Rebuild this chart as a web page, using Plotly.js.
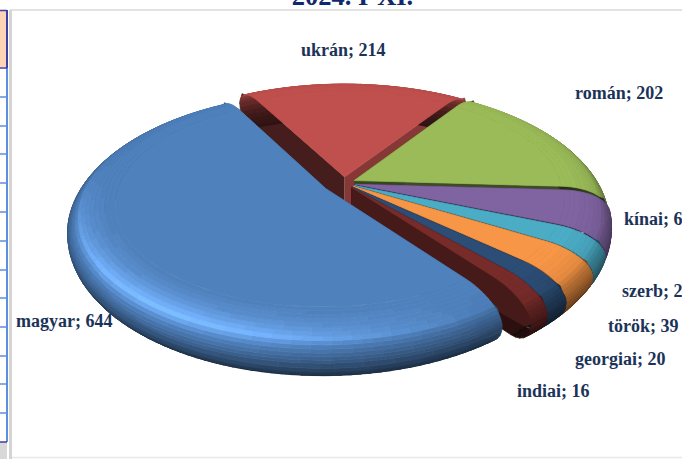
<!DOCTYPE html>
<html><head><meta charset="utf-8">
<script src="https://cdn.plot.ly/plotly-3.0.0.min.js"></script>
<style>html,body{margin:0;padding:0;background:#fff;overflow:hidden}#c{width:682px;height:459px}</style>
</head><body><div id="c"></div>
<script>
var titleText = "2024. I-XI.";
var categories = ["magyar","ukrán","román","kínai","szerb","török","georgiai","indiai"];
var values = [644,214,202,64,29,39,20,16];
var labels = ["magyar; 644","ukrán; 214","román; 202","kínai; 6","szerb; 2","török; 39","georgiai; 20","indiai; 16"];
var colors = ["#4f81bd","#c0504d","#9bbb59","#8064a2","#4bacc6","#f79646","#2c4d75","#772c2a"];
var pulls = [.085,.05,.045,.045,.045,.045,.045,.045];
var labelX = [14,299,573,622,620,606,573,515];
var labelY = [321,50,93,219,291,326,359,391];
var drawOrder = [1,2,3,4,5,6,7,0];

// projection of the tilted pie, in page pixels (axes run 0..682 and 459..0)
var P = {cx:344, cy:183, R:252, H:122, k:0.17, T:41, redGreenEdge:56};
function rad(d){return d*Math.PI/180;}
function proj(s, r, th, z){
  var u = s.ox + r*Math.cos(rad(th)), v = s.oy + r*Math.sin(rad(th));
  var w = 1 + P.k*v;
  return [P.cx + P.R*u/w, P.cy + (-P.H*v + z*P.T)/w];
}
function hex(c){return [1,3,5].map(function(i){return parseInt(c.substr(i,2),16);});}
function shade(c,f){
  var a = hex(c).map(function(x){
    var y = x*f; if(f>1) y += (f-1)*60;
    return Math.max(0,Math.min(255,Math.round(y)));
  });
  return "rgb("+a.join(",")+")";
}
var total = values.reduce(function(a,b){return a+b;},0);
var slices = [];
(function(){
  var a = P.redGreenEdge; // clockwise from here: román, kínai, szerb, török, georgiai, indiai, magyar, ukrán
  [2,3,4,5,6,7,0,1].forEach(function(i){
    var sweep = values[i]/total*360;
    var hi = a, lo = a - sweep;
    var mid = (hi+lo)/2;
    slices[i] = {hi:hi, lo:lo, ox:pulls[i]*Math.cos(rad(mid)), oy:pulls[i]*Math.sin(rad(mid)), color:colors[i], name:categories[i]};
    a = lo;
  });
})();
// rounded edge profile, bottom to top
var rings = [];
(function(){
  var i, q;
  for(i=0;i<7;i++){ q=rad(90*i/7); rings.push([.9+.1*Math.sin(q), 1-.5*(1-Math.cos(q))]); }
  for(i=0;i<=14;i++){ q=rad(90*i/14); rings.push([.82+.18*Math.cos(q), .5*(1-Math.sin(q))]); }
})();
function factor(th,z){
  var L = Math.max(0,Math.cos(rad(th-235))); L = L*L;
  var crest = 1 + .34*L - .08*(1-L);
  if(z<.18) return 1 + (z/.18)*(crest-1);
  return crest + (.24-crest)*Math.pow((z-.18)/.82,.62);
}
var traces = [];
function poly(xs,ys,col){
  traces.push({type:"scatter",mode:"lines",x:xs,y:ys,fill:"toself",fillcolor:col,
    line:{color:col,width:.7},hoverinfo:"skip",showlegend:false});
}
drawOrder.forEach(function(i){
  var s = slices[i];
  // radial walls
  [[s.lo,s.lo-90],[s.hi,s.hi+90]].forEach(function(e){
    var f = .36 + .37*Math.max(0,Math.cos(rad(e[1]+10)));
    var pts = [[0,0],[.82,0],[.976,.18],[1,.5],[.9,1],[0,1]].map(function(q){return proj(s,q[0],e[0],q[1]);});
    poly(pts.map(function(p){return p[0];}),pts.map(function(p){return p[1];}),shade(s.color,f));
  });
  // rim bands, bottom to top
  var n = Math.max(2,Math.ceil((s.hi-s.lo)/2));
  for(var b=0;b<rings.length-1;b++){
    var r0=rings[b], r1=rings[b+1], groups={};
    for(var j=0;j<n;j++){
      var t0=s.lo+(s.hi-s.lo)*j/n, t1=s.lo+(s.hi-s.lo)*(j+1)/n;
      var f=Math.round(factor((t0+t1)/2,(r0[1]+r1[1])/2)/.02)*.02;
      var key=f.toFixed(2);
      var g=groups[key]||(groups[key]={x:[],y:[]});
      [proj(s,r0[0],t0,r0[1]),proj(s,r0[0],t1,r0[1]),proj(s,r1[0],t1,r1[1]),proj(s,r1[0],t0,r1[1]),proj(s,r0[0],t0,r0[1])].forEach(function(p){g.x.push(p[0]);g.y.push(p[1]);});
      g.x.push(null);g.y.push(null);
    }
    Object.keys(groups).forEach(function(k){poly(groups[k].x,groups[k].y,shade(s.color,+k));});
  }
  // top face
  var xs=[],ys=[],a=proj(s,0,s.lo,0);xs.push(a[0]);ys.push(a[1]);
  for(var j=0;j<=n;j++){var p=proj(s,rings[rings.length-1][0],s.lo+(s.hi-s.lo)*j/n,0);xs.push(p[0]);ys.push(p[1]);}
  xs.push(a[0]);ys.push(a[1]);
  poly(xs,ys,s.color);
});
var annotations = labels.map(function(t,i){
  return {x:labelX[i],y:labelY[i],xref:"x",yref:"y",text:"<b>"+t+"</b>",showarrow:false,xanchor:"left",yanchor:"middle",
    font:{family:"Liberation Serif",size:18,color:"#1b3358"}};
});
// page furniture around the chart: neighbouring table column and frame
var shapes = [
 {type:"rect",xref:"x",yref:"y",x0:0,x1:6,y0:10,y1:67,fillcolor:"#fdd5b5",line:{width:0},layer:"below"},
 {type:"rect",xref:"x",yref:"y",x0:0,x1:7,y0:442,y1:459,fillcolor:"#d8d8d8",line:{width:0},layer:"below"},
 {type:"rect",xref:"x",yref:"y",x0:9,x1:12,y0:10,y1:459,fillcolor:"#d4d4d4",line:{width:0},layer:"below"},
 {type:"line",xref:"x",yref:"y",x0:10,x1:682,y0:10,y1:10,line:{color:"#d9d9d9",width:1.5},layer:"below"},
 {type:"line",xref:"x",yref:"y",x0:12,x1:682,y0:457.5,y1:457.5,line:{color:"#e8e8e8",width:1.5},layer:"below"},
 {type:"line",xref:"x",yref:"y",x0:7,x1:7,y0:68,y1:442,line:{color:"#5b8fe0",width:2},layer:"below"},
 {type:"line",xref:"x",yref:"y",x0:7,x1:7,y0:10,y1:68,line:{color:"#3f3fa8",width:2},layer:"below"},
 {type:"line",xref:"x",yref:"y",x0:0,x1:7,y0:10.5,y1:10.5,line:{color:"#3f3fa8",width:1.5},layer:"below"},
 {type:"line",xref:"x",yref:"y",x0:0,x1:7,y0:68,y1:68,line:{color:"#3f3fa8",width:1.5},layer:"below"},
 {type:"line",xref:"x",yref:"y",x0:0,x1:7,y0:442,y1:442,line:{color:"#3f3fa8",width:1.5},layer:"below"}
];
[97,126,154,183,212,241,270,298,327,356,384,413].forEach(function(y){
  shapes.push({type:"line",xref:"x",yref:"y",x0:0,x1:7,y0:y,y1:y,line:{color:"#5b8fe0",width:1.5},layer:"below"});
});
Plotly.newPlot("c",traces,{
  width:682,height:459,margin:{l:0,r:0,t:0,b:0},paper_bgcolor:"#fff",plot_bgcolor:"#fff",showlegend:false,
  title:{text:"<b>"+titleText+"</b>",x:352.5/682,xanchor:"center",y:1,yanchor:"bottom",pad:{b:-5},font:{family:"Liberation Serif",size:26.5,color:"#10296a"}},
  xaxis:{range:[0,682],visible:false,fixedrange:true},
  yaxis:{range:[459,0],visible:false,fixedrange:true},
  annotations:annotations,shapes:shapes
},{displayModeBar:false,staticPlot:true});
</script></body></html>
